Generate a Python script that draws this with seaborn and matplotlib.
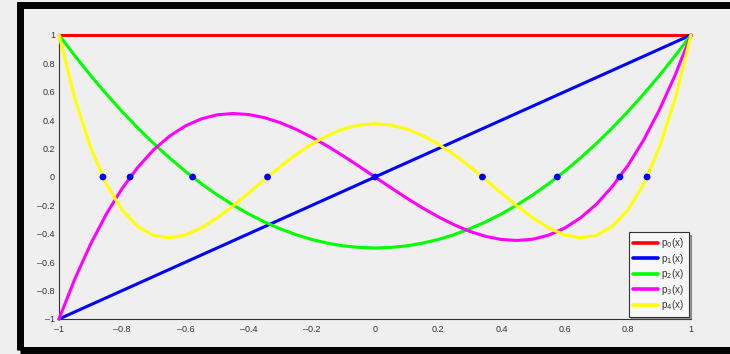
import numpy as np
import pandas as pd
import matplotlib
matplotlib.use("Agg")
import matplotlib.pyplot as plt
import seaborn as sns
from matplotlib.patches import Rectangle

# valores (passo de 0.05 em x)
x_grid = [-1.0, -0.95, -0.9, -0.85, -0.8, -0.75, -0.7, -0.65, -0.6, -0.55, -0.5,
          -0.45, -0.4, -0.35, -0.3, -0.25, -0.2, -0.15, -0.1, -0.05, 0.0,
          0.05, 0.1, 0.15, 0.2, 0.25, 0.3, 0.35, 0.4, 0.45, 0.5,
          0.55, 0.6, 0.65, 0.7, 0.75, 0.8, 0.85, 0.9, 0.95, 1.0]

p0_x = [-1.0, 1.0]
p0_y = [1.0, 1.0]
p1_x = [-1.0, 1.0]
p1_y = [-1.0, 1.0]

p2_y = [1.0, 0.854, 0.715, 0.584, 0.46, 0.344, 0.235, 0.134, 0.04, -0.046, -0.125,
        -0.196, -0.26, -0.316, -0.365, -0.406, -0.44, -0.466, -0.485, -0.496, -0.5,
        -0.496, -0.485, -0.466, -0.44, -0.406, -0.365, -0.316, -0.26, -0.196, -0.125,
        -0.046, 0.04, 0.134, 0.235, 0.344, 0.46, 0.584, 0.715, 0.854, 1.0]

p3_y = [-1.0, -0.718, -0.473, -0.26, -0.08, 0.07, 0.193, 0.288, 0.36, 0.409, 0.438,
        0.447, 0.44, 0.418, 0.383, 0.336, 0.28, 0.217, 0.148, 0.075, 0.0,
        -0.075, -0.148, -0.217, -0.28, -0.336, -0.383, -0.418, -0.44, -0.447, -0.438,
        -0.409, -0.36, -0.288, -0.193, -0.07, 0.08, 0.26, 0.473, 0.718, 1.0]

p4_y = [1.0, 0.554, 0.208, -0.051, -0.233, -0.35, -0.412, -0.428, -0.408, -0.359, -0.289,
        -0.205, -0.113, -0.019, 0.073, 0.158, 0.232, 0.293, 0.338, 0.366, 0.375,
        0.366, 0.338, 0.293, 0.232, 0.158, 0.073, -0.019, -0.113, -0.205, -0.289,
        -0.359, -0.408, -0.428, -0.412, -0.35, -0.233, -0.051, 0.208, 0.554, 1.0]

# raízes marcadas com pontos azuis
raizes_x = [-0.861, -0.775, -0.577, -0.34, 0.0, 0.34, 0.577, 0.775, 0.861]
raizes_y = [0.0, 0.0, 0.0, 0.0, 0.0, 0.0, 0.0, 0.0, 0.0]

nomes = ["p$_0$(x)", "p$_1$(x)", "p$_2$(x)", "p$_3$(x)", "p$_4$(x)"]
cores = ["#ff0000", "#0000ff", "#00ff00", "#ff00ff", "#ffff00"]

ticks = [-1, -0.8, -0.6, -0.4, -0.2, 0, 0.2, 0.4, 0.6, 0.8, 1]
tick_labels = ["\u20131", "\u20130.8", "\u20130.6", "\u20130.4", "\u20130.2", "0",
               "0.2", "0.4", "0.6", "0.8", "1"]

df = pd.concat([
    pd.DataFrame({"x": p0_x, "y": p0_y, "serie": nomes[0]}),
    pd.DataFrame({"x": p1_x, "y": p1_y, "serie": nomes[1]}),
    pd.DataFrame({"x": x_grid, "y": p2_y, "serie": nomes[2]}),
    pd.DataFrame({"x": x_grid, "y": p3_y, "serie": nomes[3]}),
    pd.DataFrame({"x": x_grid, "y": p4_y, "serie": nomes[4]}),
], ignore_index=True)

sns.set_style("white")
plt.rcParams["font.family"] = ["Liberation Sans", "DejaVu Sans"]

fig = plt.figure(figsize=(7.3, 3.54), dpi=100, facecolor="#efefef")
# moldura preta (lado direito fica fora da imagem)
fig.patches.append(Rectangle((20 / 730, 4 / 354), 740 / 730, 345 / 354,
                             transform=fig.transFigure, facecolor="none",
                             edgecolor="black", linewidth=5, zorder=5))

ax = fig.add_axes([59 / 730, 35 / 354, 632 / 730, 284 / 354])
ax.set_facecolor("none")

sns.lineplot(data=df, x="x", y="y", hue="serie", palette=dict(zip(nomes, cores)),
             hue_order=nomes, linewidth=2.2, sort=False, estimator=None, ax=ax,
             zorder=3)
for linha in ax.get_lines():
    linha.set_clip_on(False)
sns.scatterplot(x=raizes_x, y=raizes_y, color="#0000ff", s=24, edgecolor="none",
                ax=ax, zorder=4)

ax.set_xlim(-1, 1)
ax.set_ylim(-1, 1)
ax.set_xticks(ticks)
ax.set_xticklabels(tick_labels)
ax.set_yticks(ticks)
ax.set_yticklabels(tick_labels)
ax.set_xlabel("")
ax.set_ylabel("")
ax.tick_params(direction="in", length=3.5, width=0.8, colors="#333333",
               labelsize=6.5, pad=3)
ax.tick_params(axis="x", pad=4)

for lado in ["top", "right"]:
    ax.spines[lado].set_visible(False)
for lado in ["left", "bottom"]:
    ax.spines[lado].set_color("#333333")
    ax.spines[lado].set_linewidth(0.8)

handles, labels = ax.get_legend_handles_labels()
leg = ax.legend(handles[:5], labels[:5], loc="lower right", fontsize=7,
                frameon=True, fancybox=False, shadow=True, handlelength=2.6,
                handletextpad=0.3, labelspacing=0.15, borderpad=0.45,
                borderaxespad=0.25)
leg.get_frame().set_edgecolor("#333333")
leg.get_frame().set_linewidth(0.8)
leg.get_frame().set_facecolor("#f7f7f7")
for linha in leg.get_lines():
    linha.set_linewidth(2.6)
for texto in leg.get_texts():
    texto.set_color("#333333")

fig.savefig("out.png", dpi=100, facecolor=fig.get_facecolor())
